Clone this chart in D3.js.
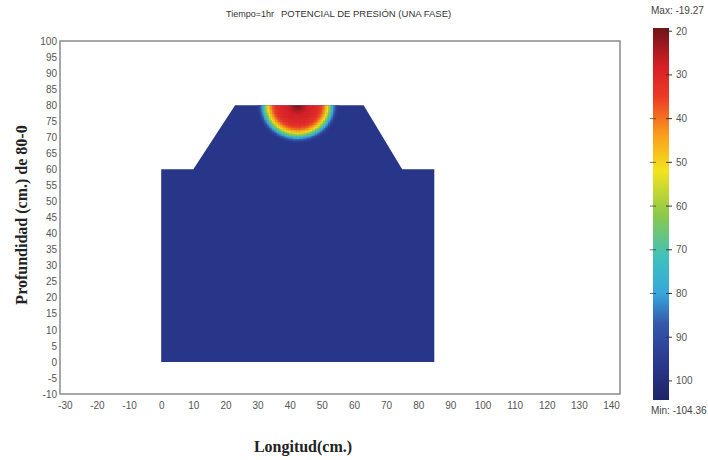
<!DOCTYPE html>
<html>
<head>
<meta charset="utf-8">
<script src="https://cdn.jsdelivr.net/npm/d3@7"></script>
<style>
  body { margin: 0; background: #fff; }
  svg { display: block; }
</style>
</head>
<body>
<div id="chart"></div>
<script>
// Tick labels
const xTicks = [-30, -20, -10, 0, 10, 20, 30, 40, 50, 60, 70, 80, 90, 100, 110, 120, 130, 140];
const yTicks = [-10, -5, 0, 5, 10, 15, 20, 25, 30, 35, 40, 45, 50, 55, 60, 65, 70, 75, 80, 85, 90, 95, 100];
const barTicks = [-20, -30, -40, -50, -60, -70, -80, -90, -100];

// Domain outline (cm)
const shapeX = [0, 0, 10, 23, 63, 75, 85, 85];
const shapeY = [0, 60, 60, 80, 80, 60, 60, 0];

// Pressure potential range
const vMin = -104.36, vMax = -19.27;
const background = -97;

// Radial profile of the wetting bulb around the source (distance cm -> value)
const srcX = 42.5, srcY = 80;
const profDist = [0, 1.5, 3, 5, 6.5, 7.5, 8.3, 9, 9.6, 10.2, 10.8, 11.5, 12.2];
const profVal = [-19.27, -24, -28, -30, -33, -38, -45, -52, -62, -72, -82, -92, -97];

// Colour map
const cmapVal = [-104.36, -95, -87, -80, -72, -62, -52, -44, -35, -28, -19.27];
const cmapCol = ["#1f2468", "#2b3b92", "#3458aa", "#37a6dc", "#3ec0c0", "#8cc84a", "#f2e41e", "#f9a11b", "#ec3a25", "#d71f26", "#6e1518"];

const width = 708, height = 460;

const svg = d3.select("#chart")
    .append("svg")
    .attr("width", width)
    .attr("height", height)
    .style("font-family", "'Liberation Sans', Arial, sans-serif");

const x = d3.scaleLinear().domain([-31.5, 142.8]).range([60, 620]);
const y = d3.scaleLinear().domain([-10, 100]).range([394, 41]);

const color = d3.scaleLinear().domain(cmapVal).range(cmapCol).clamp(true);
const profile = d3.scaleLinear().domain(profDist).range(profVal).clamp(true);

// Title
svg.append("text")
    .attr("x", 226)
    .attr("y", 17)
    .style("font-size", "9px")
    .attr("fill", "#333")
    .text("Tiempo=1hr");
svg.append("text")
    .attr("x", 281)
    .attr("y", 17)
    .style("font-size", "9.5px")
    .attr("fill", "#333")
    .text("POTENCIAL DE PRESIÓN (UNA FASE)");

// Clip path for the soil domain
const pts = shapeX.map((d, i) => [x(d), y(shapeY[i])]);
svg.append("clipPath")
    .attr("id", "soil")
    .append("polygon")
    .attr("points", pts.map(p => p.join(",")).join(" "));

// Background field
svg.append("polygon")
    .attr("points", pts.map(p => p.join(",")).join(" "))
    .attr("fill", color(background));

// Wetting bulb cells
const step = 0.5;
const cells = [];
for (let cx = srcX - 14; cx < srcX + 14; cx += step) {
    for (let cy = srcY - 14; cy < srcY; cy += step) {
        const dx = (cx + step / 2 - srcX) / 1.04;
        const dy = (cy + step / 2 - srcY) / 0.96;
        const v = profile(Math.hypot(dx, dy));
        if (v > background) cells.push({ cx, cy, v });
    }
}
svg.append("g")
    .attr("clip-path", "url(#soil)")
    .selectAll("rect")
    .data(cells)
    .enter().append("rect")
    .attr("x", d => x(d.cx))
    .attr("y", d => y(d.cy + step))
    .attr("width", x(step) - x(0) + 0.4)
    .attr("height", y(0) - y(step) + 0.4)
    .attr("fill", d => color(d.v));

// Frame
svg.append("rect")
    .attr("x", 60)
    .attr("y", 41)
    .attr("width", 560)
    .attr("height", 353)
    .attr("fill", "none")
    .attr("stroke", "#8a8a8a")
    .attr("stroke-width", 1.5);

// Axes
const yAxis = svg.append("g")
    .attr("transform", "translate(57,0)")
    .call(d3.axisLeft(y).tickValues(yTicks).tickSize(0).tickPadding(0));
const xAxis = svg.append("g")
    .attr("transform", "translate(0,402)")
    .call(d3.axisBottom(x).tickValues(xTicks).tickSize(0).tickPadding(0).tickFormat(d3.format("d")));
[yAxis, xAxis].forEach(a => {
    a.select(".domain").remove();
    a.selectAll("text")
        .attr("fill", "#555")
        .style("font-size", "10px")
        .style("font-family", "'Liberation Sans', Arial, sans-serif");
});
yAxis.selectAll("text").text(d => d < 0 ? "-" + (-d) : d);
xAxis.selectAll("text").text(d => d < 0 ? "-" + (-d) : d);

// Axis titles
svg.append("text")
    .attr("transform", "rotate(-90)")
    .attr("x", -215)
    .attr("y", 27)
    .style("text-anchor", "middle")
    .style("font-family", "'Liberation Serif', 'Times New Roman', serif")
    .style("font-weight", "bold")
    .style("font-size", "16px")
    .attr("fill", "#222")
    .text("Profundidad (cm.) de 80-0");

svg.append("text")
    .attr("x", 303)
    .attr("y", 452)
    .style("text-anchor", "middle")
    .style("font-family", "'Liberation Serif', 'Times New Roman', serif")
    .style("font-weight", "bold")
    .style("font-size", "16px")
    .attr("fill", "#222")
    .text("Longitud(cm.)");

// Colour bar
const cb = d3.scaleLinear().domain([vMin, vMax]).range([400, 28]);
const grad = svg.append("defs").append("linearGradient")
    .attr("id", "cbar")
    .attr("x1", 0).attr("y1", 1).attr("x2", 0).attr("y2", 0);
grad.selectAll("stop")
    .data(cmapVal)
    .enter().append("stop")
    .attr("offset", d => (d - vMin) / (vMax - vMin))
    .attr("stop-color", (d, i) => cmapCol[i]);

svg.append("rect")
    .attr("x", 653)
    .attr("y", cb(vMax))
    .attr("width", 16)
    .attr("height", cb(vMin) - cb(vMax))
    .attr("fill", "url(#cbar)");

const bt = svg.append("g").selectAll("g")
    .data(barTicks)
    .enter().append("g")
    .attr("transform", d => `translate(0,${cb(d)})`);
bt.append("line")
    .attr("x1", 666).attr("x2", 672)
    .attr("stroke", "#333")
    .attr("stroke-width", 1);
bt.append("line")
    .attr("x1", 650).attr("x2", 656)
    .attr("stroke", "#333")
    .attr("stroke-width", 1)
    .attr("opacity", d => (d <= -40 && d >= -80) ? 0.7 : 0);
bt.append("text")
    .attr("x", 676)
    .attr("dy", "0.35em")
    .style("font-size", "10px")
    .attr("fill", "#555")
    .text(d => -d);

svg.append("text")
    .attr("x", 651)
    .attr("y", 14)
    .style("font-size", "10px")
    .attr("fill", "#444")
    .text("Max: " + vMax);
svg.append("text")
    .attr("x", 651)
    .attr("y", 414)
    .style("font-size", "10px")
    .attr("fill", "#444")
    .text("Min: " + vMin);
</script>
</body>
</html>
